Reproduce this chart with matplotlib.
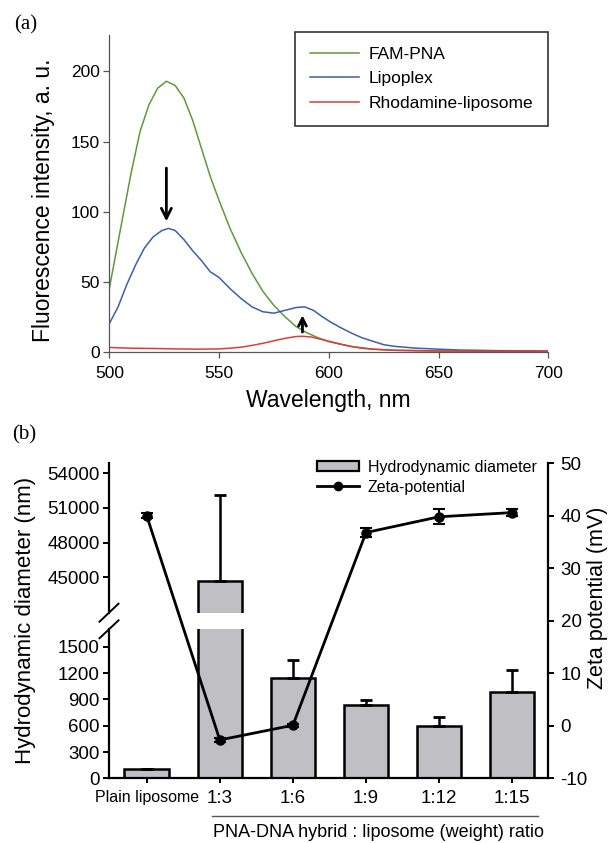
import numpy as np
import matplotlib
matplotlib.use("Agg")
import matplotlib.pyplot as plt
from matplotlib.patches import Patch
from matplotlib.lines import Line2D

plt.rcParams['font.family'] = ['Liberation Sans', 'DejaVu Sans']
plt.rcParams['axes.unicode_minus'] = False

#%%
# panel (a): fluorescence spectra
wl_fam = [500, 503, 506, 510, 514, 518, 522, 526, 530, 534, 538, 542, 546, 550,
          555, 560, 565, 570, 575, 580, 585, 590, 595, 600, 610, 620, 630, 650, 700]
fam_pna = [45, 70, 95, 128, 157, 176, 188, 193, 190, 181, 165, 145, 125, 108,
           88, 71, 56, 43, 33, 25, 18, 13.5, 10, 7.2, 3.8, 1.8, 1.0, 0.5, 0.2]

wl_lipo = [500, 504, 508, 512, 516, 520, 524, 527, 530, 534, 538, 542, 546, 550,
           555, 560, 565, 570, 575, 580, 585, 589, 593, 597, 601, 605, 610, 615,
           620, 625, 630, 640, 650, 660, 680, 700]
lipoplex = [20, 32, 48, 62, 74, 82, 86.5, 88, 86.5, 80, 72, 65, 57, 53,
            45, 38, 32, 28.5, 27.5, 29.5, 31.5, 32, 29.5, 25, 21, 17.5, 13.5, 10,
            7.5, 5, 3.8, 2.5, 1.8, 1.2, 0.7, 0.4]

wl_rho = [500, 510, 520, 530, 540, 550, 555, 560, 565, 570, 575, 580, 585, 588,
          592, 596, 600, 605, 610, 615, 620, 630, 650, 700]
rhodamine = [3, 2.5, 2.3, 2.0, 1.8, 2.0, 2.5, 3.2, 4.5, 6, 7.8, 9.5, 10.8, 11,
             10.5, 9, 7.5, 5.5, 3.8, 2.5, 1.8, 1.0, 0.5, 0.3]

# panel (b): DLS size and zeta potential
groups = ['Plain liposome', '1:3', '1:6', '1:9', '1:12', '1:15']
diameter = [110, 44650, 1144, 831, 598, 983]
diameter_err = [0, 7470, 202, 57, 103, 256]
zeta = [40.0, -2.7, 0.1, 36.8, 39.8, 40.6]
zeta_err = [0.5, 0.3, 0.3, 0.9, 1.4, 0.7]

#%%
W, H = 614, 843
fig = plt.figure(figsize=(W / 100, H / 100), dpi=100)


def box(left, top, right, bottom):
    # pixel box -> figure fraction
    return [left / W, 1 - bottom / H, (right - left) / W, (bottom - top) / H]


serif = ['Liberation Serif', 'DejaVu Serif']

#%%
# (a)
ax = fig.add_axes(box(109.3, 35, 548.3, 351.7))
ax.plot(wl_fam, fam_pna, color='#5f9a3a', lw=1.1, label='FAM-PNA')
ax.plot(wl_lipo, lipoplex, color='#3d5fac', lw=1.1, label='Lipoplex')
ax.plot(wl_rho, rhodamine, color='#e03a3a', lw=1.1, label='Rhodamine-liposome')
ax.set_xlim(500, 700)
ax.set_ylim(0, 226)
ax.set_xticks([500, 550, 600, 650, 700])
ax.set_yticks([0, 50, 100, 150, 200])
for s in ['top', 'right']:
    ax.spines[s].set_visible(False)
for s in ['left', 'bottom']:
    ax.spines[s].set_color('#555555')
    ax.spines[s].set_linewidth(0.9)
ax.tick_params(direction='out', length=4, width=0.9, color='#555555',
               labelsize=12.5, pad=3)
ax.tick_params(axis='x', pad=6)

ax.annotate('', xy=(526, 91), xytext=(526, 133),
            arrowprops=dict(arrowstyle='->', lw=2, color='black', mutation_scale=18))
ax.annotate('', xy=(588, 28), xytext=(588, 12),
            arrowprops=dict(arrowstyle='->', lw=2, color='black', mutation_scale=14))

ax.legend(loc='upper right', bbox_to_anchor=(1.0, 1.01), borderaxespad=0,
          fontsize=12.5, frameon=True, fancybox=False, edgecolor='#333333',
          framealpha=1, borderpad=0.85, labelspacing=0.55,
          handlelength=2.8, handletextpad=0.6)
ax.get_legend().get_frame().set_linewidth(1.2)

fig.text(14 / W, 1 - 25 / H, '(a)', family=serif, fontsize=15, va='center')
fig.text(44 / W, 1 - 200 / H, 'Fluorescence intensity, a. u.', rotation=90,
         ha='center', va='center', fontsize=16.5)
fig.text(328 / W, 1 - 407 / H, 'Wavelength, nm', ha='center', va='baseline',
         fontsize=16.5)

#%%
# (b) broken left axis: two stacked axes + overlay for zeta potential
x = np.arange(len(groups))
xlim = (-0.516, 5.49)
bar_kw = dict(width=0.61, color='#c0bfc4', edgecolor='black', linewidth=1.8,
              yerr=[np.zeros(len(diameter)), diameter_err],
              error_kw=dict(ecolor='black', elinewidth=1.8, capsize=4.5, capthick=2))

ax_top = fig.add_axes(box(109, 462.7, 548, 612.7))
ax_bot = fig.add_axes(box(109, 629.3, 548, 778.3))
for a in (ax_top, ax_bot):
    a.bar(x, diameter, **bar_kw)
    a.set_xlim(*xlim)
    for s in ['top', 'right']:
        a.spines[s].set_visible(False)
    for s in ['left', 'bottom']:
        a.spines[s].set_linewidth(1.6)
    a.tick_params(direction='out', length=4.5, width=1.4, labelsize=13.5, pad=2)

ax_top.set_ylim(41940, 54900)
ax_top.set_yticks([45000, 48000, 51000, 54000])
ax_top.spines['bottom'].set_visible(False)
ax_top.set_xticks([])

ax_bot.set_ylim(0, 1700)
ax_bot.set_yticks([0, 300, 600, 900, 1200, 1500])
ax_bot.set_xticks(x)
ax_bot.set_xticklabels(groups)
ax_bot.tick_params(axis='x', length=3.5, pad=5)
ax_bot.get_xticklabels()[0].set_fontsize(11.5)

# break marks on the left spine
dx, dy = 9.5 / 439, 9 / 150
for a in (ax_top, ax_bot):
    yb = 0 if a is ax_top else 1
    a.plot([-dx, dx], [yb - dy, yb + dy], transform=a.transAxes, color='black',
           lw=1.4, clip_on=False)

ax_z = fig.add_axes(box(109, 462.7, 548, 778.3))
ax_z.patch.set_alpha(0)
ax_z.errorbar(x, zeta, yerr=zeta_err, color='black', lw=2, marker='o',
              markersize=6.5, capsize=4, capthick=1.5, elinewidth=1.5)
ax_z.set_xlim(*xlim)
ax_z.set_ylim(-10, 50.1)
ax_z.set_yticks([-10, 0, 10, 20, 30, 40, 50])
ax_z.yaxis.tick_right()
ax_z.set_xticks([])
for s in ['top', 'left', 'bottom']:
    ax_z.spines[s].set_visible(False)
ax_z.spines['right'].set_linewidth(1.6)
ax_z.tick_params(direction='out', length=4, width=1.4, labelsize=13.5, pad=5)

handles = [Patch(facecolor='#c0bfc4', edgecolor='black', linewidth=1.6),
           Line2D([], [], color='black', lw=2, marker='o', markersize=6)]
ax_z.legend(handles, ['Hydrodynamic diameter', 'Zeta-potential'],
            loc='upper left', bbox_to_anchor=(0.4745, 1.01), borderaxespad=0,
            borderpad=0, frameon=False, fontsize=11.5, handlelength=2.6,
            handleheight=0.6, handletextpad=0.55, labelspacing=0.33)

fig.text(12 / W, 1 - 435 / H, '(b)', family=serif, fontsize=15, va='center')
fig.text(26 / W, 1 - 620 / H, 'Hydrodynamic diameter (nm)', rotation=90,
         ha='center', va='center', fontsize=16)
fig.text(598 / W, 1 - 598 / H, 'Zeta potential (mV)', rotation=90,
         ha='center', va='center', fontsize=15.5)

fig.add_artist(Line2D([212 / W, 538 / W], [1 - 815.7 / H] * 2,
                      transform=fig.transFigure, color='#555555', lw=1))
fig.text(378 / W, 1 - 837 / H, 'PNA-DNA hybrid : liposome (weight) ratio',
         ha='center', va='baseline', fontsize=13)

fig.savefig('out.png', dpi=100)
